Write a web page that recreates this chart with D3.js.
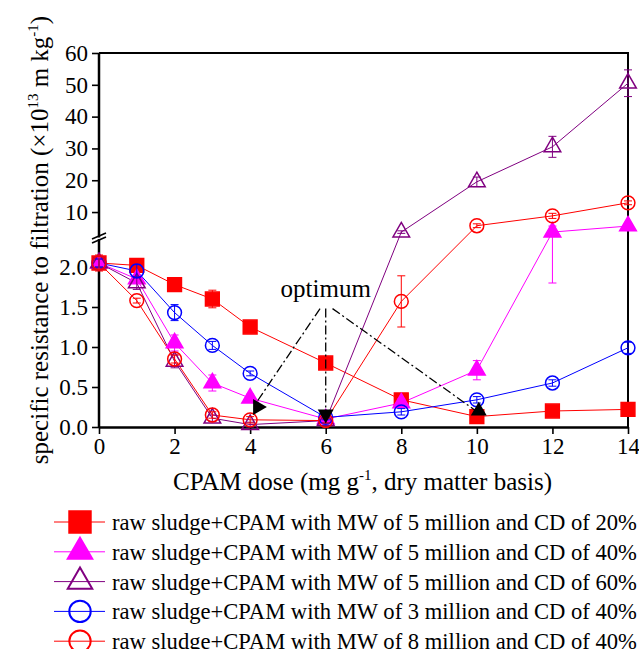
<!DOCTYPE html>
<html>
<head>
<meta charset="utf-8">
<script src="https://cdn.jsdelivr.net/npm/d3@7"></script>
<style>
  body { margin: 0; background: #fff; }
</style>
</head>
<body>
<div id="chart"></div>
<script>
// CPAM dose (mg/g)
const doses = [0, 1, 2, 3, 4, 6, 8, 10, 12, 14];

const names = [
  "raw sludge+CPAM with MW of 5 million and CD of 20%",
  "raw sludge+CPAM with MW of 5 million and CD of 40%",
  "raw sludge+CPAM with MW of 5 million and CD of 60%",
  "raw sludge+CPAM with MW of 3 million and CD of 40%",
  "raw sludge+CPAM with MW of 8 million and CD of 40%"
];
const colors = ["#ff0000", "#ff00ff", "#800080", "#0000ff", "#ff0000"];
const shapes = ["square", "triangle", "triangle", "circle", "circle"];
const filled = [true, true, false, false, false];

// specific resistance values (x10^13 m/kg)
const mw5cd20 = [2.05, 2.02, 1.78, 1.60, 1.25, 0.80, 0.34, 0.13, 0.20, 0.22];
const mw5cd40 = [2.05, 1.85, 1.05, 0.55, 0.36, 0.10, 0.30, 0.71, 3.7, 5.6];
const mw5cd60 = [2.05, 1.80, 0.82, 0.11, 0.03, 0.08, 3.7, 19.5, 30.5, 50.5];
const mw3cd40 = [2.05, 1.95, 1.43, 1.02, 0.67, 0.12, 0.19, 0.34, 0.55, 0.99];
const mw8cd40 = [2.05, 1.58, 0.85, 0.15, 0.09, 0.08, 1.57, 5.7, 8.8, 12.9];

// error bars (+/-)
const err5cd20 = [0.05, 0.03, 0.03, 0.11, 0.03, 0.03, 0.03, 0.03, 0.03, 0.03];
const err5cd40 = [0.08, 0.05, 0.10, 0.10, 0.05, 0.03, 0.05, 0.12, 1.9, 0.3];
const err5cd60 = [0.05, 0.08, 0.08, 0.04, 0.03, 0.03, 0.4, 1.5, 3.3, 4.2];
const err3cd40 = [0.05, 0.08, 0.10, 0.05, 0.03, 0.03, 0.04, 0.04, 0.04, 0.07];
const err8cd40 = [0.10, 0.03, 0.05, 0.04, 0.04, 0.03, 0.32, 0.6, 0.8, 0.6];

const values = [mw5cd20, mw5cd40, mw5cd60, mw3cd40, mw8cd40];
const errors = [err5cd20, err5cd40, err5cd60, err3cd40, err8cd40];

const xTicks = [0, 2, 4, 6, 8, 10, 12, 14];
const lowTicks = [0, 0.5, 1.0, 1.5, 2.0];
const highTicks = [10, 20, 30, 40, 50, 60];

// "optimum" annotation (dose, resistance)
const optLabel = { x: 6, y: 1.63, text: "optimum" };
const optStarts = [[5.85, 1.48], [6.0, 1.48], [6.18, 1.48]];
const optEnds = [[4.1, 0.26], [6.0, 0.2], [9.95, 0.21]];
const optHeads = [[4.2, 0.25, 90], [6.0, 0.16, 180], [10.05, 0.2, 0]];

const FONT = "Liberation Serif";
const config = { left: 99, top: 53, width: 529, height: 374 };
const breakAt = 2.3;

const svg = d3.select("#chart").append("svg")
  .attr("width", 639).attr("height", 649);
const g = svg.append("g")
  .attr("transform", `translate(${config.left},${config.top})`);

const xScale = d3.scaleLinear().domain([0, 14]).range([0, config.width]);
const yLow = d3.scaleLinear().domain([0, 2.35]).range([config.height, 186]);
const yHigh = d3.scaleLinear().domain([2, 60]).range([184.5, 0]);
const yPos = v => v <= breakAt ? yLow(v) : yHigh(v);

// frame (top + right)
g.append("path")
  .attr("d", `M0,0H${config.width}V${config.height}`)
  .attr("fill", "none").attr("stroke", "#000").attr("stroke-width", 2);

// bottom axis
const xAxis = g.append("g")
  .attr("transform", `translate(0,${config.height})`)
  .call(d3.axisBottom(xScale).tickValues(xTicks).tickSize(7).tickPadding(4).tickSizeOuter(0));
xAxis.select(".domain").attr("stroke-width", 2.5);
xAxis.selectAll(".tick line").attr("stroke-width", 1.6);
xAxis.selectAll("text").attr("font-size", 23).attr("font-family", FONT);

// left axis in two pieces with a break
const lowAxis = g.append("g")
  .call(d3.axisLeft(yLow).tickValues(lowTicks).tickFormat(d3.format(".1f")).tickSize(7).tickPadding(4).tickSizeOuter(0));
lowAxis.select(".domain").attr("d", `M0,${config.height}V${yLow(2.35)}`);
const highAxis = g.append("g")
  .call(d3.axisLeft(yHigh).tickValues(highTicks).tickSize(7).tickPadding(4).tickSizeOuter(0));
highAxis.select(".domain").attr("d", `M0,${yHigh(2)}V0`);
[lowAxis, highAxis].forEach(a => {
  a.select(".domain").attr("stroke-width", 2.5);
  a.selectAll(".tick line").attr("stroke-width", 1.6);
  a.selectAll("text").attr("font-size", 23).attr("font-family", FONT);
});

// break marks
[-2, 2].forEach(o => {
  g.append("line")
    .attr("x1", -7).attr("y1", 185 + o + 3)
    .attr("x2", 7).attr("y2", 185 + o - 3)
    .attr("stroke", "#000").attr("stroke-width", 1.6);
});

const symbolFor = (shape, size) => {
  const type = shape === "square" ? d3.symbolSquare
    : shape === "triangle" ? d3.symbolTriangle : d3.symbolCircle;
  return d3.symbol().type(type).size(size)();
};
const markerSize = { square: 190, triangle: 120, circle: 150 };

// lines
values.forEach((vals, i) => {
  g.append("path")
    .datum(vals)
    .attr("fill", "none")
    .attr("stroke", colors[i])
    .attr("stroke-width", 1)
    .attr("d", d3.line()
      .x((d, j) => xScale(doses[j]))
      .y(d => yPos(d)));
});

// error bars + markers
values.forEach((vals, i) => {
  const eg = g.append("g").attr("stroke", colors[i]).attr("stroke-width", 1);
  vals.forEach((v, j) => {
    const e = errors[i][j];
    const x = xScale(doses[j]);
    const y1 = yPos(v - e), y2 = yPos(v + e);
    eg.append("line").attr("x1", x).attr("x2", x).attr("y1", y1).attr("y2", y2);
    eg.append("line").attr("x1", x - 4).attr("x2", x + 4).attr("y1", y1).attr("y2", y1);
    eg.append("line").attr("x1", x - 4).attr("x2", x + 4).attr("y1", y2).attr("y2", y2);
  });
  g.append("g").selectAll("path")
    .data(vals)
    .join("path")
    .attr("transform", (d, j) => `translate(${xScale(doses[j])},${yPos(d)})`)
    .attr("d", symbolFor(shapes[i], markerSize[shapes[i]]))
    .attr("fill", filled[i] ? colors[i] : "none")
    .attr("stroke", colors[i])
    .attr("stroke-width", 1.5);
});

// optimum annotation
g.append("text")
  .attr("x", xScale(optLabel.x)).attr("y", yLow(optLabel.y))
  .attr("text-anchor", "middle").attr("font-size", 25).attr("font-family", FONT)
  .text(optLabel.text);
optStarts.forEach((s, k) => {
  g.append("line")
    .attr("x1", xScale(s[0])).attr("y1", yLow(s[1]))
    .attr("x2", xScale(optEnds[k][0])).attr("y2", yLow(optEnds[k][1]))
    .attr("stroke", "#000").attr("stroke-width", 1.3)
    .attr("stroke-dasharray", "9,3,2,3");
});
g.selectAll(".head")
  .data(optHeads)
  .join("path")
  .attr("transform", d => `translate(${xScale(d[0])},${yLow(d[1])}) rotate(${d[2]})`)
  .attr("d", d3.symbol().type(d3.symbolTriangle).size(110)())
  .attr("fill", "#000");

// axis titles
const xt = svg.append("text")
  .attr("x", config.left + config.width / 2 - 1).attr("y", 490)
  .attr("text-anchor", "middle").attr("font-size", 25).attr("font-family", FONT);
xt.append("tspan").text("CPAM dose (mg g");
xt.append("tspan").attr("dy", -10).attr("font-size", 15).text("-1");
xt.append("tspan").attr("dy", 10).text(", dry matter basis)");

const yt = svg.append("text")
  .attr("transform", "translate(48,240) rotate(-90)")
  .attr("text-anchor", "middle").attr("font-size", 25).attr("font-family", FONT);
yt.append("tspan").text("specific resistance to filtration (\u00d710");
yt.append("tspan").attr("dy", -10).attr("font-size", 15).text("13");
yt.append("tspan").attr("dy", 10).text(" m kg");
yt.append("tspan").attr("dy", -10).attr("font-size", 15).text("-1");
yt.append("tspan").attr("dy", 10).text(")");

// legend
const legend = svg.append("g").attr("transform", "translate(0,522)");
names.forEach((name, i) => {
  const row = legend.append("g").attr("transform", `translate(0,${i * 29.8})`);
  row.append("line").attr("x1", 54).attr("x2", 105)
    .attr("stroke", colors[i]).attr("stroke-width", 1);
  row.append("path")
    .attr("transform", "translate(80,0)")
    .attr("d", symbolFor(shapes[i], shapes[i] === "square" ? 460 : shapes[i] === "triangle" ? 260 : 360))
    .attr("fill", filled[i] ? colors[i] : "none")
    .attr("stroke", colors[i]).attr("stroke-width", 2);
  row.append("text")
    .attr("x", 112).attr("y", 8)
    .attr("font-size", 22.6).attr("font-family", FONT)
    .text(name);
});
</script>
</body>
</html>
